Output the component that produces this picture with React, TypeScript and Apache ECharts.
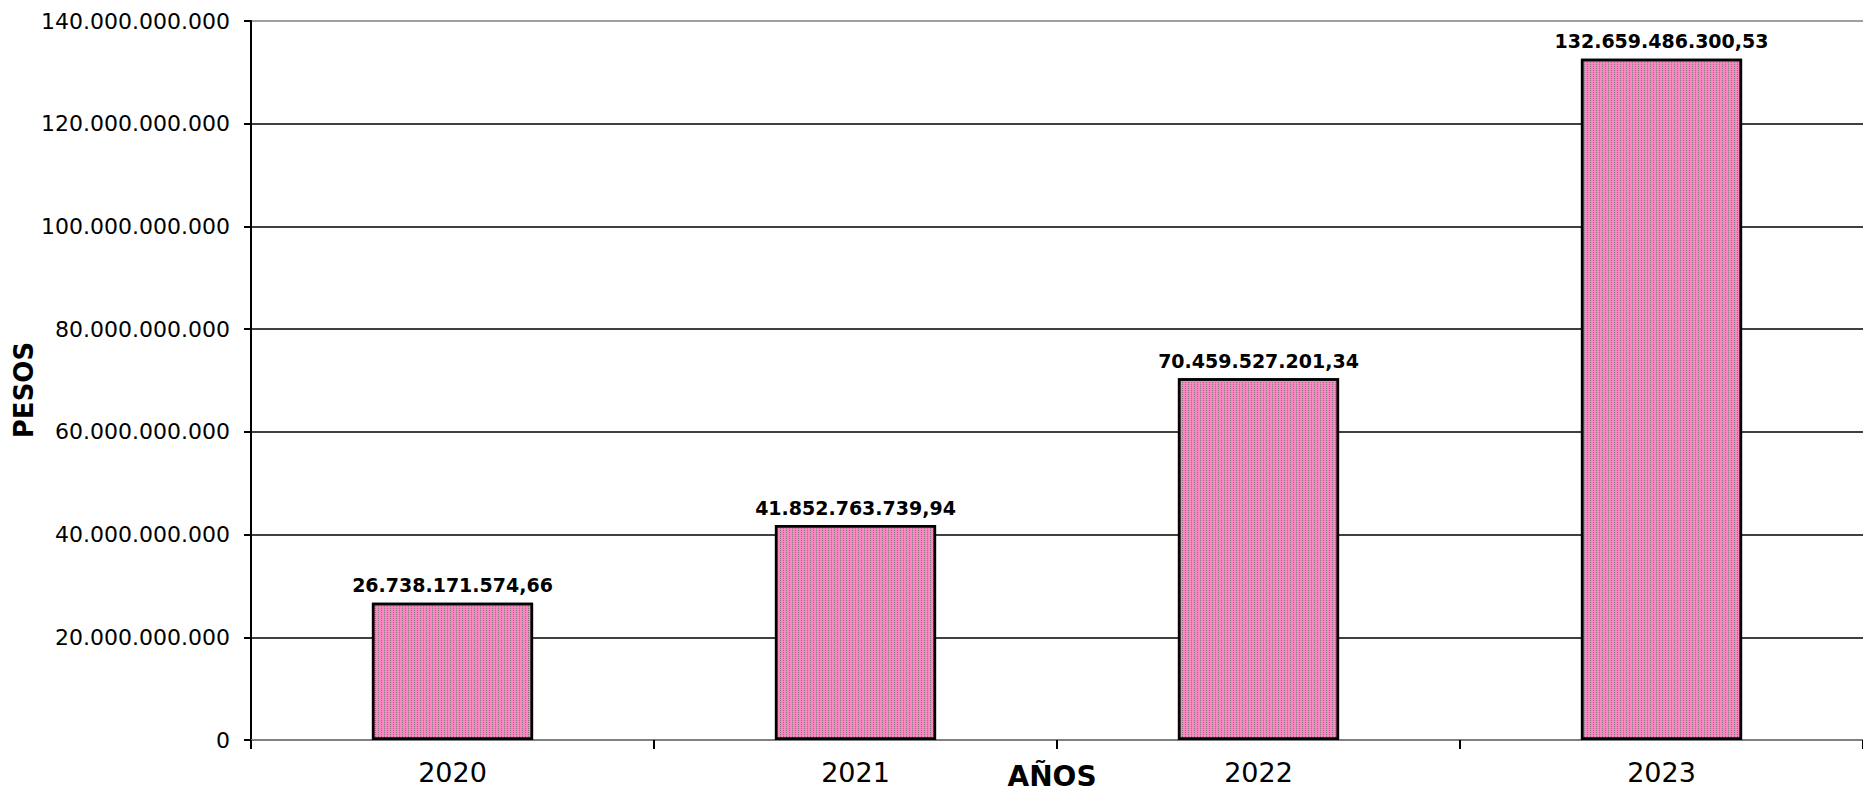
import React, { useEffect, useRef } from "react";
import * as echarts from "echarts";

const categories = ["2020", "2021", "2022", "2023"];
const values = [26738171574.66, 41852763739.94, 70459527201.34, 132659486300.53];
const yTicks = { min: 0, max: 140000000000, interval: 20000000000 };
const xAxisTitle = "AÑOS";
const yAxisTitle = "PESOS";

const groupThousands = (s: string) => s.replace(/\B(?=(\d{3})+(?!\d))/g, ".");
const fmtAxis = (v: number) => groupThousands(String(Math.round(v)));
const fmtValue = (v: number) => {
  const [i, d] = v.toFixed(2).split(".");
  return groupThousands(i) + "," + d;
};

export default function App() {
  const ref = useRef<HTMLDivElement>(null);
  useEffect(() => {
    if (!ref.current) return;
    const chart = echarts.init(ref.current, null, { renderer: "svg" });
    chart.setOption({
      animation: false,
      backgroundColor: "#ffffff",
      grid: {
        left: 251,
        top: 21,
        bottom: 52,
        right: -8,
        show: false,
      },
      xAxis: {
        type: "category",
        data: categories,
        boundaryGap: true,
        axisLine: { show: true, lineStyle: { color: "#808080", width: 2 } },
        axisTick: { show: true, length: 9, lineStyle: { color: "#000", width: 2 } },
        axisLabel: {
          margin: 19,
          color: "#000",
          fontFamily: "DejaVu Sans",
          fontSize: 27,
        },
      },
      yAxis: {
        type: "value",
        min: yTicks.min,
        max: yTicks.max,
        interval: yTicks.interval,
        axisLine: { show: true, lineStyle: { color: "#000", width: 2 } },
        axisTick: { show: true, length: 7, lineStyle: { color: "#000", width: 2 } },
        axisLabel: {
          margin: 21,
          color: "#000",
          fontFamily: "DejaVu Sans",
          fontSize: 22,
          formatter: fmtAxis,
        },
        splitLine: {
          show: true,
          lineStyle: {
            color: ["#000", "#000", "#000", "#000", "#000", "#000", "#000", "#808080"],
            width: 1.5,
          },
        },
      },
      graphic: [
        {
          type: "text",
          x: 1052,
          y: 776,
          style: {
            text: xAxisTitle,
            fill: "#000",
            font: "bold 28px 'DejaVu Sans'",
            textAlign: "center",
            textVerticalAlign: "middle",
          },
        },
        {
          type: "text",
          x: 24,
          y: 390,
          rotation: Math.PI / 2,
          style: {
            text: yAxisTitle,
            fill: "#000",
            font: "bold 26px 'DejaVu Sans'",
            textAlign: "center",
            textVerticalAlign: "middle",
          },
        },
      ],
      series: [
        {
          type: "bar",
          data: values,
          barWidth: "40%",
          itemStyle: {
            color: "#FF85C2",
            borderColor: "#000",
            borderWidth: 2.5,
            decal: {
              symbol: "rect",
              symbolSize: 1,
              color: "rgba(120,120,120,0.9)",
              dashArrayX: [1, 2],
              dashArrayY: [1, 1],
              rotation: 0,
            },
          },
          label: {
            show: true,
            position: "top",
            distance: 8,
            color: "#000",
            fontFamily: "DejaVu Sans",
            fontWeight: "bold",
            fontSize: 19,
            formatter: (p: any) => fmtValue(p.value),
          },
        },
      ],
    });
    return () => chart.dispose();
  }, []);
  return (
    <div
      ref={ref}
      style={{ position: "absolute", left: 0, top: 0, width: 1863, height: 792 }}
    />
  );
}
